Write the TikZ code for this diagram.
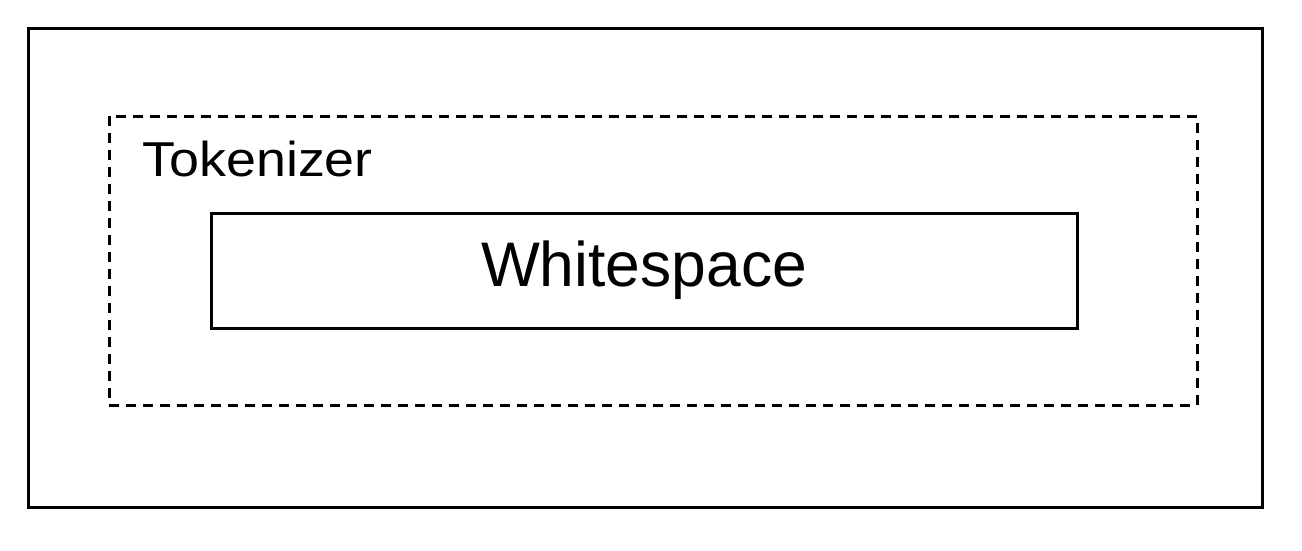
\documentclass[tikz,border=0pt]{standalone}
\usepackage{fontspec}
\setmainfont{Liberation Sans}
\begin{document}
\begin{tikzpicture}[x=1pt,y=-1pt,
  box/.style={draw=black,line width=3pt},
  dbox/.style={draw=black,line width=3pt,dash pattern=on 10pt off 7pt},
  lbl/.style={inner sep=0pt,anchor=base west}]
\useasboundingbox (0,0) rectangle (1302,550);
\node[box,minimum width=1234pt,minimum height=479pt,inner sep=0pt] (outer) at (645,267.5) {};
\node[dbox,minimum width=1088pt,minimum height=289pt,inner sep=0pt] (tok) at (653,260.5) {};
\node[box,minimum width=866pt,minimum height=115pt,inner sep=0pt] (ws) at (644,270.5) {};
\node[lbl,font=\fontsize{49pt}{49pt}\selectfont\addfontfeature{FakeStretch=1.1}] (toklbl) at (142,176) {Tokenizer};
\node[inner sep=0pt,font=\fontsize{63pt}{63pt}\selectfont\addfontfeature{FakeStretch=0.99}] (wslbl) at (644,270) {Whitespace};
\end{tikzpicture}
\end{document}
